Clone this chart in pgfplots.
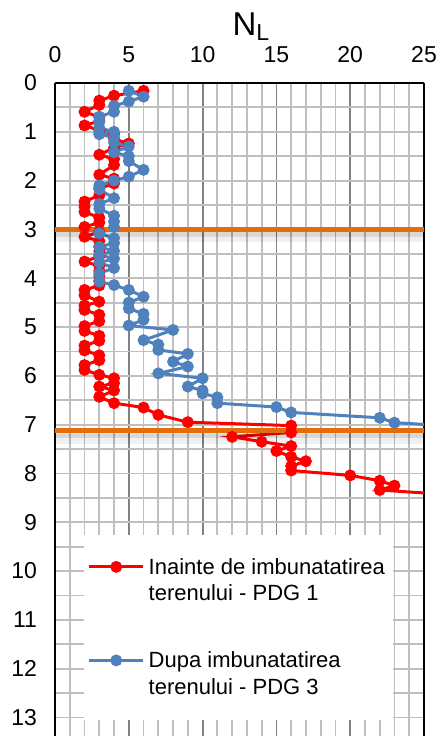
\documentclass[border=0pt]{standalone}
\usepackage{pgfplots}
\pgfplotsset{compat=1.18}
\usepackage{fontspec}
\setmainfont{Liberation Sans}
\definecolor{pdgred}{RGB}{255,0,0}
\definecolor{pdgblue}{RGB}{79,129,189}
\definecolor{limita}{RGB}{228,108,10}
\definecolor{gmin}{RGB}{191,191,191}
\definecolor{gmaj}{RGB}{130,130,130}

\begin{document}
\begin{tikzpicture}
\begin{axis}[
  scale only axis, width=184.5pt, height=326.5pt,
  xmin=0, xmax=25, ymin=0, ymax=13.38, y dir=reverse,
  axis x line=top, axis y line=box,
  x axis line style={-}, y axis line style={-},
  axis line style={line width=0.8pt},
  xtick={0,5,...,25}, minor x tick num=4,
  ytick={0,1,...,13}, minor y tick num=1,
  major tick length=0pt, minor tick length=0pt,
  grid=both,
  major x grid style={gmaj, line width=0.9pt},
  minor x grid style={gmin, line width=0.9pt},
  major y grid style={gmin, line width=0.9pt},
  minor y grid style={gmin, line width=0.9pt},
  tick label style={font=\fontsize{11.5}{13}\selectfont},
  /pgf/number format/assume math mode=true,
  xticklabel shift=6.5pt, yticklabel shift=5.5pt,
  xlabel={N\textsubscript{L}},
  xlabel style={font=\fontsize{16.5}{18}\selectfont, yshift=-4pt, xshift=6pt},
  legend style={at={(axis cs:1.92,9.26)}, anchor=north west, draw=none, fill=white,
    inner xsep=2pt, inner ysep=9.5pt, row sep=20pt,
    font=\fontsize{11}{13.3}\selectfont,
    cells={anchor=base west, align=left, inner xsep=1.5pt}},
  legend image code/.code={\draw[mark repeat=2,mark phase=2,#1]
    plot coordinates {(0pt,17pt) (13.5pt,17pt) (27pt,17pt)};},
]
% Inainte - PDG 1
\addplot[pdgred, line width=1.5pt, mark=*, mark size=2.2pt] coordinates {
(6,0.16) (4,0.26) (3,0.36) (3,0.45) (2,0.59) (3,0.70) (3,0.78) (2,0.87) (3,0.97)
(4,1.05) (4,1.15) (5,1.24) (4,1.33) (3,1.47) (4,1.56) (4,1.68) (3,1.88) (4,1.96)
(4,2.06) (3,2.16) (3,2.30) (2,2.43) (2,2.53) (2,2.64) (3,2.76) (3,2.86) (2,2.95)
(3,3.05) (2,3.15) (3,3.24) (3,3.35) (3,3.45) (3,3.55) (2,3.66) (3,3.75) (3,3.85)
(3,3.95) (3,4.05) (3,4.15) (2,4.24) (2,4.35) (3,4.48) (2,4.56) (2,4.65) (3,4.75)
(3,4.88) (2,4.98) (2,5.08) (3,5.18) (3,5.28) (2,5.38) (2,5.48) (3,5.58) (3,5.68)
(2,5.78) (2,5.88) (3,5.98) (4,6.05) (4,6.15) (3,6.22) (4,6.30) (3,6.43) (4,6.56)
(6,6.65) (7,6.80) (9,6.95) (16,7.02) (16,7.16) (12,7.25) (14,7.35) (16,7.44)
(15,7.54) (16,7.66) (17,7.75) (16,7.85) (16,7.94) (20,8.04) (22,8.15) (23,8.25)
(22,8.34) (28,8.46)
};
\addlegendentry{Inainte de imbunatatirea\\terenului - PDG 1}
% Dupa - PDG 3
\addplot[pdgblue, line width=1.5pt, mark=*, mark size=2.2pt] coordinates {
(5,0.16) (6,0.28) (5,0.38) (4,0.47) (4,0.59) (3,0.69) (3,0.80) (3,0.92) (4,1.00)
(3,1.05) (4,1.12) (4,1.22) (5,1.30) (4,1.42) (5,1.50) (5,1.60) (6,1.78) (5,1.92)
(4,2.00) (3,2.10) (3,2.18) (4,2.36) (3,2.48) (3,2.57) (4,2.72) (4,2.84) (4,2.95)
(3,3.08) (4,3.18) (4,3.28) (3,3.36) (4,3.44) (3,3.52) (4,3.60) (3,3.68) (4,3.79)
(3,3.90) (3,4.07) (4,4.14) (5,4.24) (6,4.38) (5,4.50) (5,4.62) (6,4.73) (6,4.85)
(5,4.97) (8,5.06) (6,5.27) (7,5.36) (7,5.47) (9,5.55) (8,5.71) (9,5.81) (7,5.95)
(10,6.05) (9,6.22) (10,6.30) (10,6.36) (11,6.44) (11,6.56) (15,6.64) (16,6.75)
(22,6.86) (23,6.96) (27,7.03)
};
\addlegendentry{Dupa imbunatatirea\\terenului - PDG 3}
% limite de strat
\addplot[black, opacity=0.06, line width=5pt, yshift=-4pt, forget plot] coordinates {(-0.2,3) (25,3)};
\addplot[black, opacity=0.10, line width=3pt, yshift=-2.2pt, forget plot] coordinates {(-0.2,3) (25,3)};
\addplot[black, opacity=0.06, line width=5pt, yshift=-4pt, forget plot] coordinates {(-0.2,7.13) (25,7.13)};
\addplot[black, opacity=0.10, line width=3pt, yshift=-2.2pt, forget plot] coordinates {(-0.2,7.13) (25,7.13)};
\addplot[limita, line width=2.5pt, forget plot] coordinates {(-0.2,3) (25,3)};
\addplot[limita, line width=2.5pt, forget plot] coordinates {(-0.2,7.13) (25,7.13)};
\end{axis}
\pgfresetboundingbox
\path ([xshift=-27.5pt]current axis.south west) rectangle ([xshift=8.5pt,yshift=41.5pt]current axis.north east);
\end{tikzpicture}
\end{document}
